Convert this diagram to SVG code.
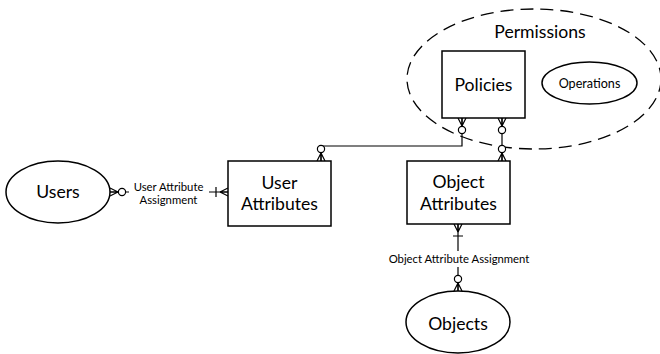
<svg xmlns="http://www.w3.org/2000/svg" width="660" height="354" viewBox="0 0 660 354">
  <style>
    .shape { fill: #ffffff; stroke: #000000; stroke-width: 1.5; }
    .group { fill: none; stroke: #000000; stroke-width: 1.3; stroke-dasharray: 13 7; }
    .conn { fill: none; stroke: #000000; stroke-width: 1.2; }
    .big { font-family: Lato, "Open Sans", sans-serif; font-size: 17.6px; fill: #000000; text-anchor: middle; }
    .small { font-family: Lato, "Open Sans", sans-serif; font-size: 11.3px; fill: #000000; text-anchor: middle; }
    .mid { font-family: Lato, "Open Sans", sans-serif; font-size: 12.6px; fill: #000000; text-anchor: middle; }
  </style>
  <defs>
    <!-- zero-or-many: crow's foot at the edge, ring behind it -->
    <marker id="zeroMany" markerUnits="userSpaceOnUse" viewBox="-18 -6 20 12" markerWidth="20" markerHeight="12" refX="0" refY="0" orient="auto-start-reverse" overflow="visible">
      <path d="M-8,0 L0,-4 M-8,0 L0,4 M-8,0 L0,0" fill="none" stroke="#000" stroke-width="1.2"/>
      <circle cx="-12" cy="0" r="3.6" fill="#fff" stroke="#000" stroke-width="1.2"/>
    </marker>
    <!-- one-or-many: crow's foot at the edge, bar behind it -->
    <marker id="oneMany" markerUnits="userSpaceOnUse" viewBox="-18 -6 20 12" markerWidth="20" markerHeight="12" refX="0" refY="0" orient="auto-start-reverse" overflow="visible">
      <path d="M-8,0 L0,-4 M-8,0 L0,4 M-8,0 L0,0 M-12,-5 L-12,5" fill="none" stroke="#000" stroke-width="1.2"/>
    </marker>
  </defs>

  <!-- permissions boundary -->
  <g id="permissions">
    <ellipse class="group" cx="534" cy="79" rx="127" ry="70"/>
    <text class="big" x="540" y="38">Permissions</text>
  </g>

  <!-- relationships -->
  <g id="connectors">
    <path class="conn" d="M110,192 H228" marker-start="url(#zeroMany)" marker-end="url(#oneMany)"/>
    <path class="conn" d="M321,161 V146 H462 V118" marker-start="url(#zeroMany)" marker-end="url(#zeroMany)"/>
    <path class="conn" d="M502,118 V161" marker-start="url(#zeroMany)" marker-end="url(#zeroMany)"/>
    <path class="conn" d="M458,224 V291" marker-start="url(#oneMany)" marker-end="url(#zeroMany)"/>
    <rect x="129" y="179" width="80" height="28" fill="#fff"/>
    <text class="small" x="168.5" y="191">User Attribute</text>
    <text class="small" x="168.5" y="204">Assignment</text>
    <rect x="386" y="251" width="146" height="16" fill="#fff"/>
    <text class="small" x="459" y="263">Object Attribute Assignment</text>
  </g>

  <g id="users">
    <ellipse class="shape" cx="58" cy="192" rx="52" ry="31"/>
    <text class="big" x="58" y="198">Users</text>
  </g>

  <g id="user-attributes">
    <rect class="shape" x="228" y="161" width="103" height="65"/>
    <text class="big" x="279.5" y="189">User</text>
    <text class="big" x="279.5" y="210">Attributes</text>
  </g>

  <g id="policies">
    <rect class="shape" x="442" y="51" width="83" height="67"/>
    <text class="big" x="483.5" y="91">Policies</text>
  </g>

  <g id="operations">
    <ellipse class="shape" cx="589.5" cy="83" rx="47.5" ry="21"/>
    <text class="mid" x="589.5" y="88">Operations</text>
  </g>

  <g id="object-attributes">
    <rect class="shape" x="407" y="161" width="103" height="63"/>
    <text class="big" x="458.5" y="188">Object</text>
    <text class="big" x="458.5" y="210">Attributes</text>
  </g>

  <g id="objects">
    <ellipse class="shape" cx="458" cy="322" rx="52" ry="31"/>
    <text class="big" x="458" y="330">Objects</text>
  </g>
</svg>
